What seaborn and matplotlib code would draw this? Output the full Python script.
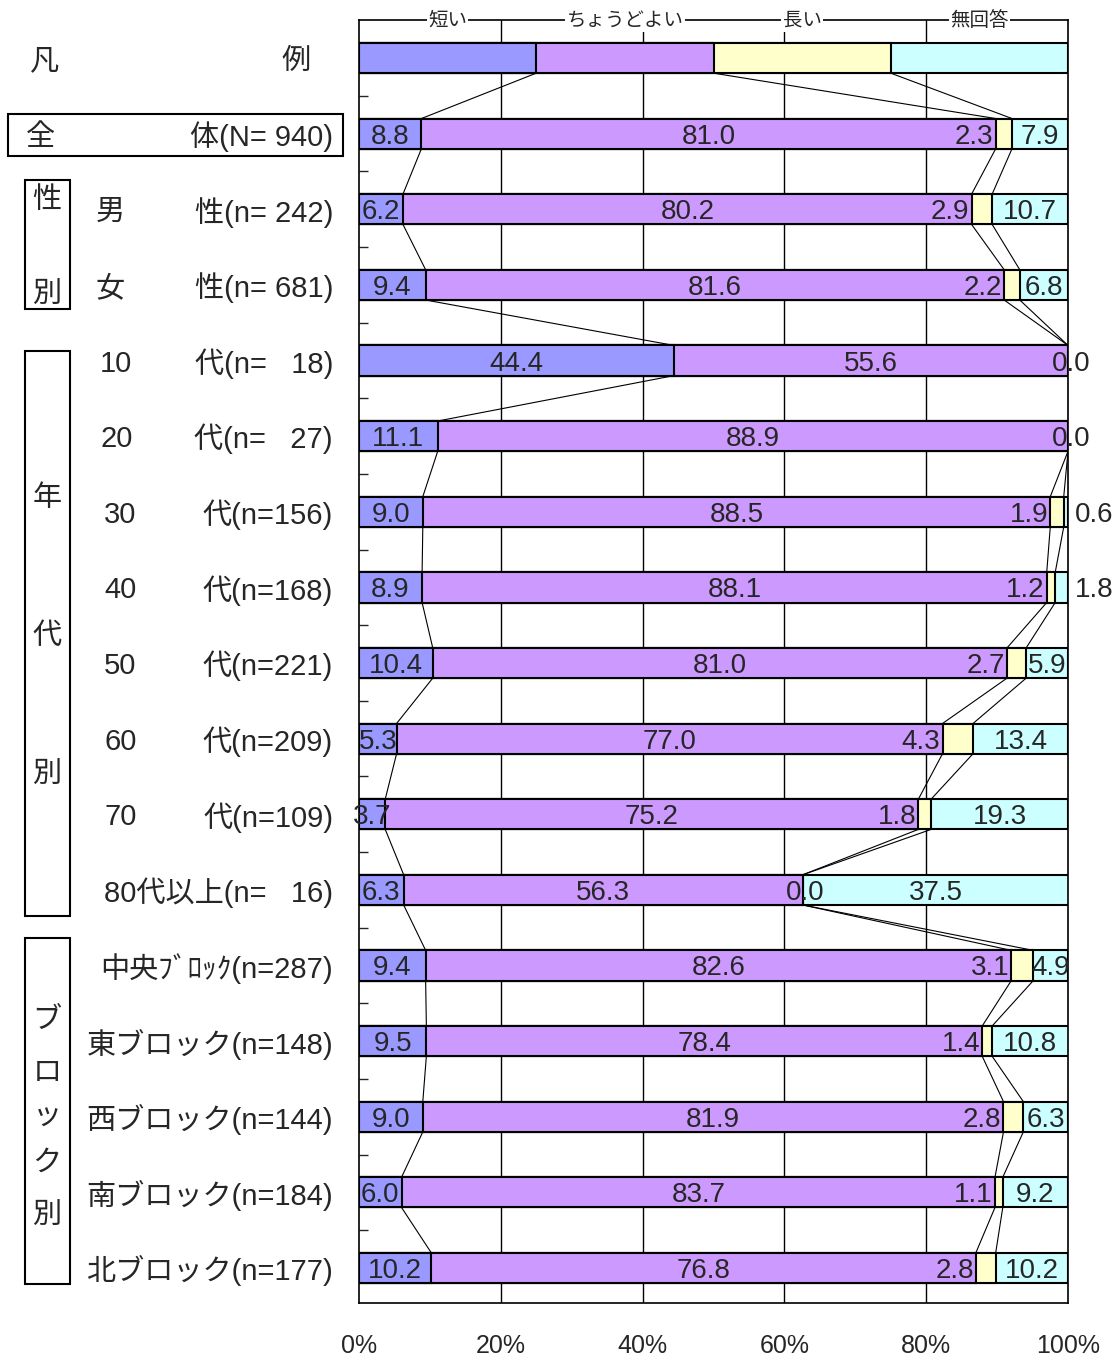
import numpy as np
import pandas as pd
import matplotlib
matplotlib.use("Agg")
import matplotlib.pyplot as plt
import seaborn as sns
from matplotlib.patches import Rectangle
from matplotlib.transforms import blended_transform_factory

# ---------------- data ----------------
rows = ["凡例", "全体", "男性", "女性", "10代", "20代", "30代", "40代", "50代",
        "60代", "70代", "80代以上", "中央", "東", "西", "南", "北"]
series_names = ["短い", "ちょうどよい", "長い", "無回答"]
short = [25, 8.8, 6.2, 9.4, 44.4, 11.1, 9.0, 8.9, 10.4, 5.3, 3.7, 6.3, 9.4, 9.5, 9.0, 6.0, 10.2]
just = [25, 81.0, 80.2, 81.6, 55.6, 88.9, 88.5, 88.1, 81.0, 77.0, 75.2, 56.3, 82.6, 78.4, 81.9, 83.7, 76.8]
long_ = [25, 2.3, 2.9, 2.2, 0.0, 0.0, 1.9, 1.2, 2.7, 4.3, 1.8, 0.0, 3.1, 1.4, 2.8, 1.1, 2.8]
noans = [25, 7.9, 10.7, 6.8, 0.0, 0.0, 0.6, 1.8, 5.9, 13.4, 19.3, 37.5, 4.9, 10.8, 6.3, 9.2, 10.2]

label_left = ["", "全", "男", "女", "10", "20", "30", "40", "50", "60", "70",
              "", "", "", "", "", ""]
label_right = ["", "体(N= 940)", "性(n= 242)", "性(n= 681)", "代(n=   18)", "代(n=   27)",
               "代(n=156)", "代(n=168)", "代(n=221)", "代(n=209)", "代(n=109)",
               "80代以上(n=   16)", "中央ﾌﾞﾛｯｸ(n=287)", "東ブロック(n=148)",
               "西ブロック(n=144)", "南ブロック(n=184)", "北ブロック(n=177)"]

colors = ["#9999FF", "#CC99FF", "#FFFFCC", "#CCFFFF"]

# ---------------- setup ----------------
sns.set_style("white")
plt.rcParams["font.family"] = ["Liberation Sans", "Noto Sans CJK JP", "DejaVu Sans"]

W, H = 1120, 1358
fig = plt.figure(figsize=(W / 100, H / 100), dpi=100)
ax_left, ax_right, ax_top, ax_bot = 359, 1068, 20, 1303
ax = fig.add_axes([ax_left / W, 1 - ax_bot / H, (ax_right - ax_left) / W, (ax_bot - ax_top) / H])

vals = np.array([short, just, long_, noans], dtype=float)
cum = np.cumsum(vals, axis=0)
df = pd.DataFrame({"row": rows, "c1": cum[0], "c2": cum[1], "c3": cum[2], "c4": cum[3]})

for x in [20, 40, 60, 80]:
    ax.axvline(x, color="black", lw=1.0, zorder=0)

for col, color in reversed(list(zip(["c1", "c2", "c3", "c4"], colors))):
    sns.barplot(data=df, x=col, y="row", order=rows, color=color, saturation=1,
                width=0.4, edgecolor="black", linewidth=1.5, errorbar=None,
                orient="h", ax=ax, zorder=2)

n = len(rows)
# connecting lines
for i in range(n - 1):
    for k in range(3):
        ax.plot([cum[k][i], cum[k][i + 1]], [i + 0.2, i + 1 - 0.2],
                color="black", lw=0.8, zorder=3)

ax.set_xlim(0, 100)
ax.set_ylim(16.463, -0.503)
ax.set_xlabel("")
ax.set_ylabel("")
ax.set_xticks([0, 20, 40, 60, 80, 100])
ax.set_xticklabels(["0%", "20%", "40%", "60%", "80%", "100%"])
ax.tick_params(axis="x", length=0, pad=22, labelsize=18)
ax.set_yticks([])
ax.set_yticks(np.arange(0.5, n - 1, 1), minor=True)
ax.tick_params(axis="y", which="minor", direction="in", length=6.5, width=1,
               left=True, labelleft=False)
for s in ax.spines.values():
    s.set_color("black")
    s.set_linewidth(1.2)

# legend labels on top line
for k, name in enumerate(series_names):
    start = cum[k - 1][0] if k > 0 else 0
    xc = (start + cum[k][0]) / 2
    ax.text(xc, -0.503, name, ha="center", va="center", fontsize=14,
            family=["Noto Sans CJK JP"],
            bbox=dict(facecolor="white", edgecolor="none", pad=1), zorder=5, clip_on=False)

# value labels
fs = 20
VA = "center_baseline"
for i in range(1, n):
    s, j, l, na = short[i], just[i], long_[i], noans[i]
    ax.text(s / 2, i, f"{s:.1f}", ha="center", va=VA, fontsize=fs, zorder=6)
    ax.text(cum[0][i] + j / 2, i, f"{j:.1f}", ha="center", va=VA, fontsize=fs, zorder=6)
    if l == 0 and na == 0:
        ax.text(100.4, i, "0.0", ha="center", va=VA, fontsize=fs, zorder=6, clip_on=False)
        continue
    if l == 0:
        ax.text(cum[1][i] + 0.4, i, "0.0", ha="center", va=VA, fontsize=fs, zorder=6)
    else:
        ax.text(cum[1][i] - 0.3, i, f"{l:.1f}", ha="right", va=VA, fontsize=fs, zorder=6)
    if na < 3:
        ax.text(101.0, i, f"{na:.1f}", ha="left", va=VA, fontsize=fs, zorder=6, clip_on=False)
    else:
        ax.text(cum[2][i] + na / 2, i, f"{na:.1f}", ha="center", va=VA, fontsize=fs, zorder=6)

# left-side labels
trans = blended_transform_factory(fig.transFigure, ax.transData)
lfs = 21
ax.text(45 / W, 0, "凡", transform=trans, ha="center", va=VA, fontsize=lfs)
ax.text(296 / W, 0, "例", transform=trans, ha="center", va=VA, fontsize=lfs)
left_x = {1: 40, 2: 110, 3: 110}
for i in range(1, n):
    if label_left[i]:
        if i in left_x:
            ax.text(left_x[i] / W, i, label_left[i], transform=trans, ha="center",
                    va=VA, fontsize=lfs)
        else:
            xl = 100 if i in (4, 5) else 104
            ax.text(xl / W, i, label_left[i], transform=trans, ha="left",
                    va=VA, fontsize=lfs)
    ax.text(333 / W, i, label_right[i], transform=trans, ha="right", va=VA, fontsize=lfs)


def fbox(x0, y0, x1, y1, lw=1.5):
    fig.add_artist(Rectangle((x0 / W, 1 - y1 / H), (x1 - x0) / W, (y1 - y0) / H,
                             transform=fig.transFigure, fill=False, edgecolor="black", lw=lw))


def ftext(x, y, s):
    fig.text(x / W, 1 - y / H, s, ha="center", va=VA, fontsize=lfs)


fbox(8, 114, 343, 156)
fbox(25, 180, 70, 309)
ftext(47, 197, "性")
ftext(47, 292, "別")
fbox(25, 351, 70, 916)
for ch, y in zip("年代別", [495, 633, 772]):
    ftext(47, y, ch)
fbox(25, 938, 70, 1284)
for ch, y in zip(["ブ", "ロ", "ッ", "ク", "別"], [1017, 1070, 1113, 1160, 1213]):
    ftext(47, y, ch)

fig.savefig("out.png", dpi=100)
